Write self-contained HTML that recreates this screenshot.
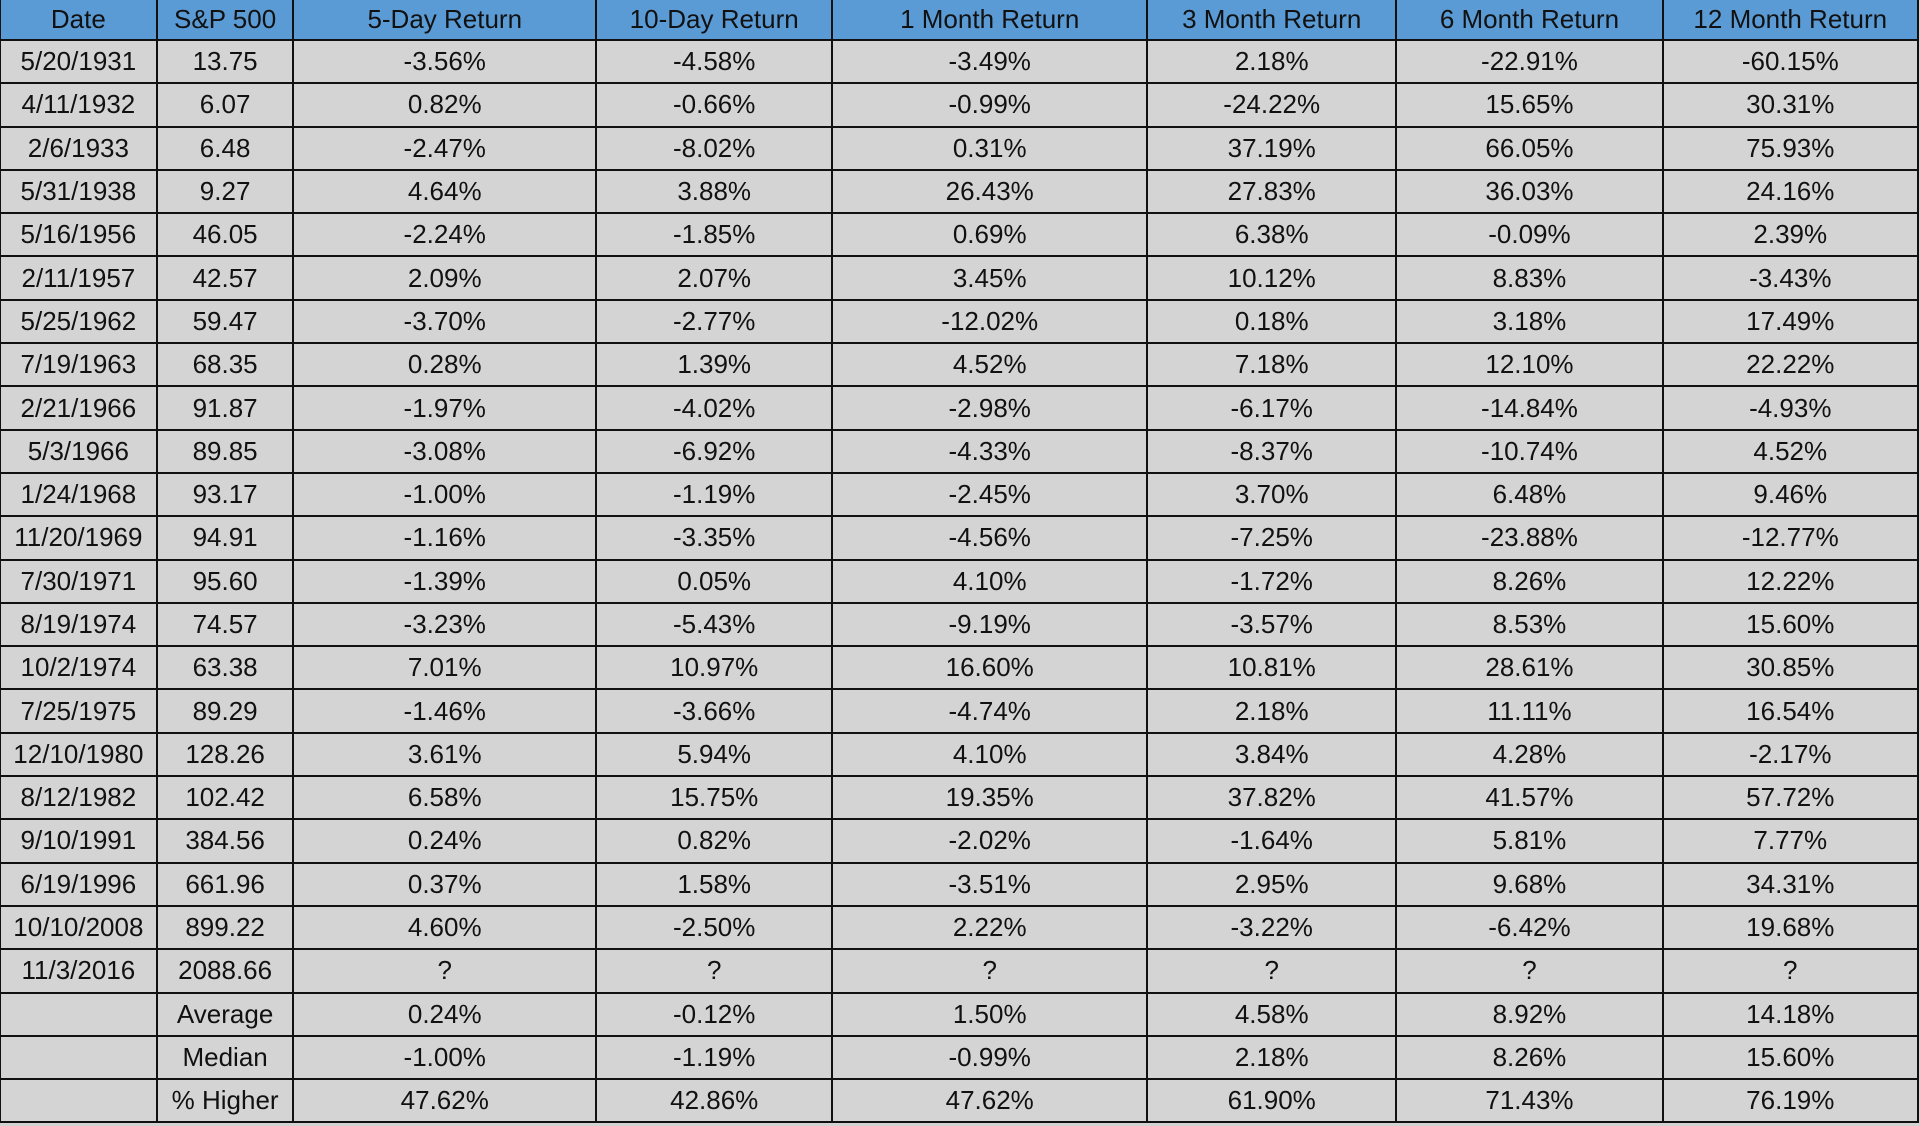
<!DOCTYPE html>
<html><head><style>
html,body{margin:0;padding:0;width:1920px;height:1126px;overflow:hidden;background:#d3d3d3;}
table{border-collapse:collapse;table-layout:fixed;position:absolute;left:-1px;top:-2px;font-family:"Liberation Sans",sans-serif;font-size:26px;color:#111;}
td,th{border:2px solid #111;text-align:center;padding:0;height:41.3px;white-space:nowrap;overflow:hidden;font-weight:normal;background:#d4d4d4;}
th{background:#5b9bd5;height:39px;}
</style></head><body>
<table>
<colgroup><col style="width:157px"><col style="width:137px"><col style="width:304px"><col style="width:237px"><col style="width:316px"><col style="width:250px"><col style="width:267px"><col style="width:256px"></colgroup>
<tr><th>Date</th><th>S&amp;P 500</th><th>5-Day Return</th><th>10-Day Return</th><th>1 Month Return</th><th>3 Month Return</th><th>6 Month Return</th><th>12 Month Return</th></tr>
<tr><td>5/20/1931</td><td>13.75</td><td>-3.56%</td><td>-4.58%</td><td>-3.49%</td><td>2.18%</td><td>-22.91%</td><td>-60.15%</td></tr>
<tr><td>4/11/1932</td><td>6.07</td><td>0.82%</td><td>-0.66%</td><td>-0.99%</td><td>-24.22%</td><td>15.65%</td><td>30.31%</td></tr>
<tr><td>2/6/1933</td><td>6.48</td><td>-2.47%</td><td>-8.02%</td><td>0.31%</td><td>37.19%</td><td>66.05%</td><td>75.93%</td></tr>
<tr><td>5/31/1938</td><td>9.27</td><td>4.64%</td><td>3.88%</td><td>26.43%</td><td>27.83%</td><td>36.03%</td><td>24.16%</td></tr>
<tr><td>5/16/1956</td><td>46.05</td><td>-2.24%</td><td>-1.85%</td><td>0.69%</td><td>6.38%</td><td>-0.09%</td><td>2.39%</td></tr>
<tr><td>2/11/1957</td><td>42.57</td><td>2.09%</td><td>2.07%</td><td>3.45%</td><td>10.12%</td><td>8.83%</td><td>-3.43%</td></tr>
<tr><td>5/25/1962</td><td>59.47</td><td>-3.70%</td><td>-2.77%</td><td>-12.02%</td><td>0.18%</td><td>3.18%</td><td>17.49%</td></tr>
<tr><td>7/19/1963</td><td>68.35</td><td>0.28%</td><td>1.39%</td><td>4.52%</td><td>7.18%</td><td>12.10%</td><td>22.22%</td></tr>
<tr><td>2/21/1966</td><td>91.87</td><td>-1.97%</td><td>-4.02%</td><td>-2.98%</td><td>-6.17%</td><td>-14.84%</td><td>-4.93%</td></tr>
<tr><td>5/3/1966</td><td>89.85</td><td>-3.08%</td><td>-6.92%</td><td>-4.33%</td><td>-8.37%</td><td>-10.74%</td><td>4.52%</td></tr>
<tr><td>1/24/1968</td><td>93.17</td><td>-1.00%</td><td>-1.19%</td><td>-2.45%</td><td>3.70%</td><td>6.48%</td><td>9.46%</td></tr>
<tr><td>11/20/1969</td><td>94.91</td><td>-1.16%</td><td>-3.35%</td><td>-4.56%</td><td>-7.25%</td><td>-23.88%</td><td>-12.77%</td></tr>
<tr><td>7/30/1971</td><td>95.60</td><td>-1.39%</td><td>0.05%</td><td>4.10%</td><td>-1.72%</td><td>8.26%</td><td>12.22%</td></tr>
<tr><td>8/19/1974</td><td>74.57</td><td>-3.23%</td><td>-5.43%</td><td>-9.19%</td><td>-3.57%</td><td>8.53%</td><td>15.60%</td></tr>
<tr><td>10/2/1974</td><td>63.38</td><td>7.01%</td><td>10.97%</td><td>16.60%</td><td>10.81%</td><td>28.61%</td><td>30.85%</td></tr>
<tr><td>7/25/1975</td><td>89.29</td><td>-1.46%</td><td>-3.66%</td><td>-4.74%</td><td>2.18%</td><td>11.11%</td><td>16.54%</td></tr>
<tr><td>12/10/1980</td><td>128.26</td><td>3.61%</td><td>5.94%</td><td>4.10%</td><td>3.84%</td><td>4.28%</td><td>-2.17%</td></tr>
<tr><td>8/12/1982</td><td>102.42</td><td>6.58%</td><td>15.75%</td><td>19.35%</td><td>37.82%</td><td>41.57%</td><td>57.72%</td></tr>
<tr><td>9/10/1991</td><td>384.56</td><td>0.24%</td><td>0.82%</td><td>-2.02%</td><td>-1.64%</td><td>5.81%</td><td>7.77%</td></tr>
<tr><td>6/19/1996</td><td>661.96</td><td>0.37%</td><td>1.58%</td><td>-3.51%</td><td>2.95%</td><td>9.68%</td><td>34.31%</td></tr>
<tr><td>10/10/2008</td><td>899.22</td><td>4.60%</td><td>-2.50%</td><td>2.22%</td><td>-3.22%</td><td>-6.42%</td><td>19.68%</td></tr>
<tr><td>11/3/2016</td><td>2088.66</td><td>?</td><td>?</td><td>?</td><td>?</td><td>?</td><td>?</td></tr>
<tr><td></td><td>Average</td><td>0.24%</td><td>-0.12%</td><td>1.50%</td><td>4.58%</td><td>8.92%</td><td>14.18%</td></tr>
<tr><td></td><td>Median</td><td>-1.00%</td><td>-1.19%</td><td>-0.99%</td><td>2.18%</td><td>8.26%</td><td>15.60%</td></tr>
<tr><td></td><td>% Higher</td><td>47.62%</td><td>42.86%</td><td>47.62%</td><td>61.90%</td><td>71.43%</td><td>76.19%</td></tr>
</table>
</body></html>
